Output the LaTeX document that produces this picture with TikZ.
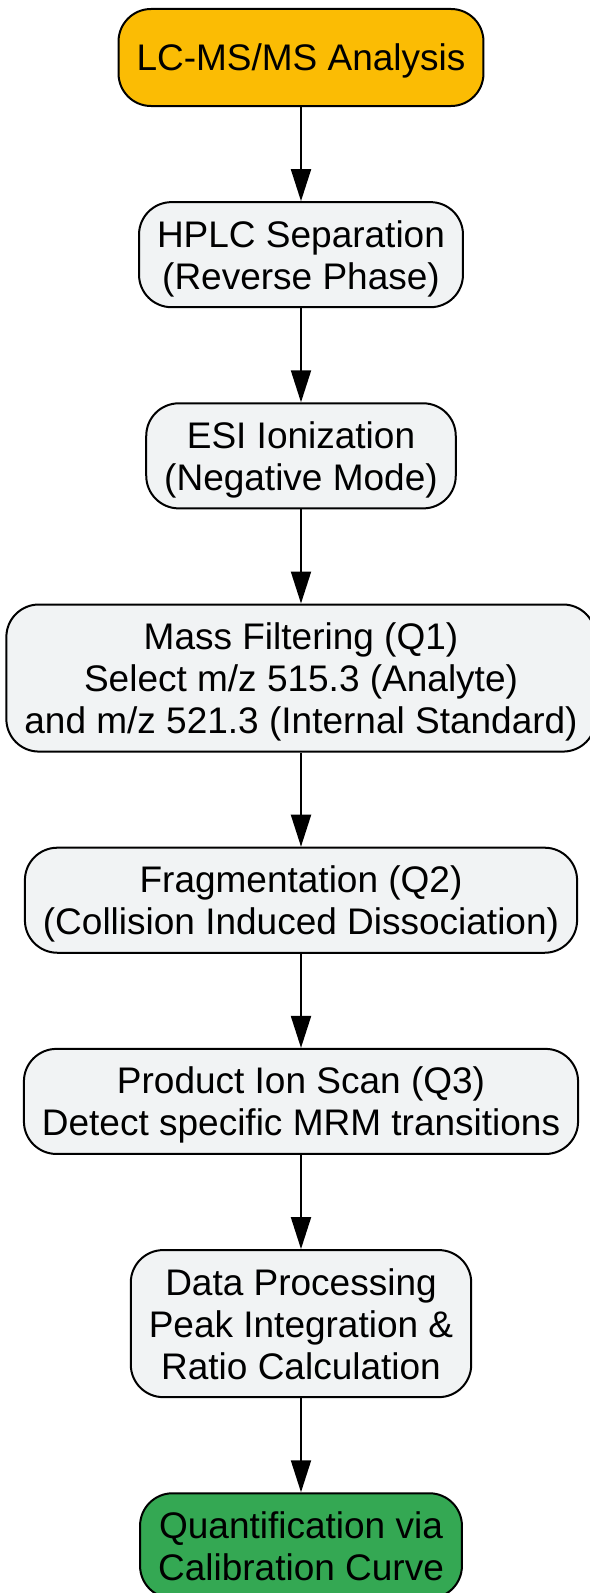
\documentclass[tikz,border=0pt]{standalone}
\usepackage{fontspec}
\setmainfont{Liberation Sans}
\usetikzlibrary{positioning,arrows.meta}
\definecolor{startyellow}{HTML}{FBBC04}
\definecolor{stepgray}{HTML}{F1F3F4}
\definecolor{endgreen}{HTML}{34A853}

\begin{document}
\begin{tikzpicture}[x=0.4pt,y=-0.4pt,
				node distance=37.65pt,
				every node/.style={draw,line width=0.8pt,rounded corners=13pt,align=center,
					font=\fontsize{14.8}{16.8}\selectfont,inner xsep=7.2pt,inner ysep=7.25pt,
					text depth=0pt,fill=stepgray},
				startbox/.style={fill=startyellow,minimum height=38.8pt},
				endbox/.style={fill=endgreen},
				flow/.style={-{Triangle[length=12.8pt,width=8pt]},line width=0.8pt}]
\useasboundingbox (0,0) rectangle (590,1593);
\node[startbox] (lcms) at (301,57.5) {LC-MS/MS Analysis};
\node[below=of lcms] (hplc) {HPLC Separation\\(Reverse Phase)};
\node[below=of hplc] (esi) {ESI Ionization\\(Negative Mode)};
\node[below=of esi] (qone) {Mass Filtering (Q1)\\Select m/z 515.3 (Analyte)\\and m/z 521.3 (Internal Standard)};
\node[below=of qone] (qtwo) {Fragmentation (Q2)\\(Collision Induced Dissociation)};
\node[below=of qtwo] (qthree) {Product Ion Scan (Q3)\\Detect specific MRM transitions};
\node[below=of qthree] (data) {Data Processing\\Peak Integration \&\\Ratio Calculation};
\node[endbox,below=of data] (quant) {Quantification via\\Calibration Curve};
% arrows
\draw[flow] (lcms) -- (hplc);
\draw[flow] (hplc) -- (esi);
\draw[flow] (esi) -- (qone);
\draw[flow] (qone) -- (qtwo);
\draw[flow] (qtwo) -- (qthree);
\draw[flow] (qthree) -- (data);
\draw[flow] (data) -- (quant);
\end{tikzpicture}
\end{document}
